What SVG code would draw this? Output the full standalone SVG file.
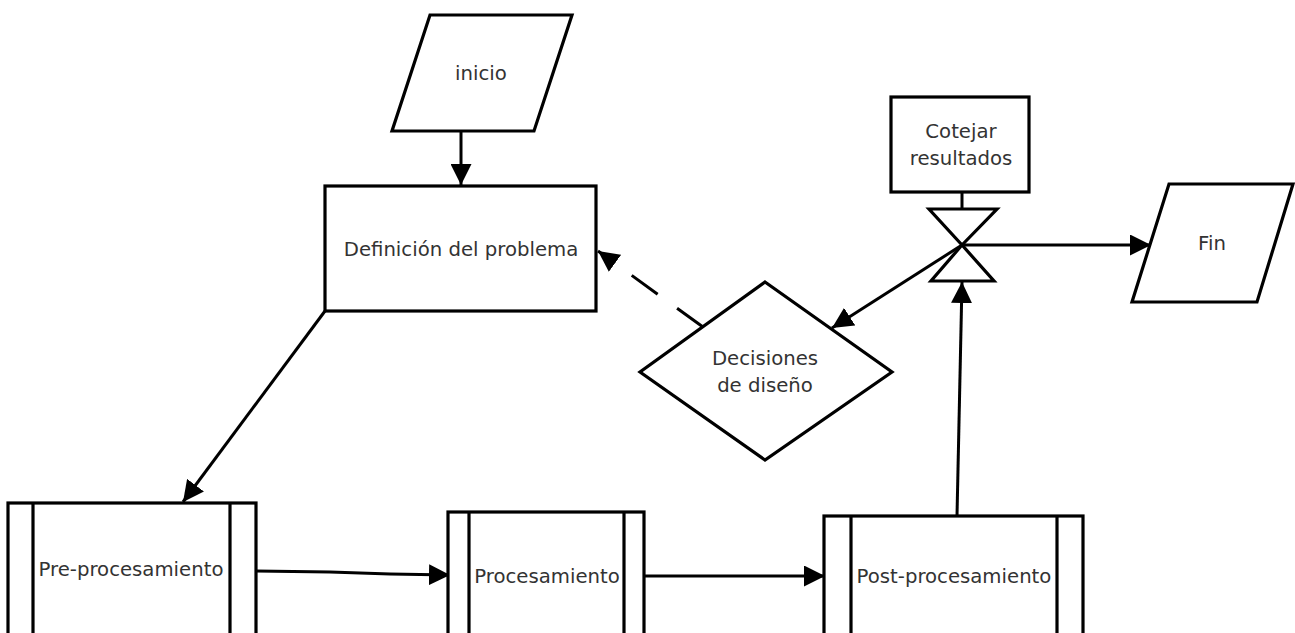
<svg xmlns="http://www.w3.org/2000/svg" width="1295" height="633" viewBox="0 0 1295 633">
  <defs>
    <marker id="arrow" markerUnits="userSpaceOnUse" markerWidth="21" markerHeight="21" refX="21" refY="10.5" orient="auto" viewBox="0 0 21 21">
      <path d="M0,0 L21,10.5 L0,21 z" fill="#000"/>
    </marker>
    <style>
      .shape { fill: #fff; stroke: #000; stroke-width: 3.2; stroke-linejoin: miter; }
      .inner { fill: none; stroke: #000; stroke-width: 3.2; }
      .edge { fill: none; stroke: #000; stroke-width: 3; }
      .label { font-family: "DejaVu Sans", sans-serif; font-size: 19.7px; fill: #333; text-anchor: middle; }
    </style>
  </defs>
  <rect width="1295" height="633" fill="#fff"/>

  <!-- connectors -->
  <g id="connectors">
    <line class="edge" x1="461" y1="131" x2="461" y2="185" marker-end="url(#arrow)"/>
    <line class="edge" x1="325" y1="311" x2="183" y2="502" marker-end="url(#arrow)"/>
    <polyline class="edge" points="256,571 330,572 390,574 450,575" marker-end="url(#arrow)"/>
    <line class="edge" x1="644" y1="576" x2="825" y2="576" marker-end="url(#arrow)"/>
    <line class="edge" x1="957" y1="516" x2="962" y2="282" marker-end="url(#arrow)"/>
    <line class="edge" x1="962" y1="192" x2="962" y2="209"/>
    <line class="edge" x1="962" y1="245" x2="1151" y2="245" marker-end="url(#arrow)"/>
    <line class="edge" x1="962" y1="245" x2="832" y2="328" marker-end="url(#arrow)"/>
    <path class="edge" d="M703,327 L598,251" stroke-dasharray="32 24" marker-end="url(#arrow)"/>
  </g>

  <!-- start -->
  <g id="inicio">
    <polygon class="shape" points="430,15 572,15 534,131 392,131"/>
    <text class="label" x="481" y="80">inicio</text>
  </g>

  <g id="definicion">
    <rect class="shape" x="325" y="186" width="271" height="125"/>
    <text class="label" x="461" y="256">Definición del problema</text>
  </g>

  <g id="cotejar">
    <rect class="shape" x="891" y="97" width="138" height="95"/>
    <text class="label" x="961" y="138">Cotejar</text>
    <text class="label" x="961" y="165">resultados</text>
  </g>

  <!-- collate (hourglass) symbol -->
  <g id="collate">
    <polygon class="shape" points="929,209 997,209 962,245" fill="none"/>
    <polygon class="shape" points="962,245 931,281 994,281" fill="none"/>
  </g>

  <g id="fin">
    <polygon class="shape" points="1169,184 1293,184 1257,302 1132,302"/>
    <text class="label" x="1212" y="250">Fin</text>
  </g>

  <g id="decisiones">
    <polygon class="shape" points="765,282 892,372 765,460 640,372"/>
    <text class="label" x="765" y="365">Decisiones</text>
    <text class="label" x="765" y="392">de diseño</text>
  </g>

  <!-- predefined-process boxes -->
  <g id="preprocesamiento">
    <rect class="shape" x="8" y="503" width="248" height="140"/>
    <line class="inner" x1="33" y1="503" x2="33" y2="640"/>
    <line class="inner" x1="230" y1="503" x2="230" y2="640"/>
    <text class="label" x="131" y="576">Pre-procesamiento</text>
  </g>

  <g id="procesamiento">
    <rect class="shape" x="448" y="512" width="196" height="130"/>
    <line class="inner" x1="469" y1="512" x2="469" y2="640"/>
    <line class="inner" x1="624" y1="512" x2="624" y2="640"/>
    <text class="label" x="547" y="583">Procesamiento</text>
  </g>

  <g id="postprocesamiento">
    <rect class="shape" x="824" y="516" width="259" height="125"/>
    <line class="inner" x1="851" y1="516" x2="851" y2="640"/>
    <line class="inner" x1="1057" y1="516" x2="1057" y2="640"/>
    <text class="label" x="954" y="583">Post-procesamiento</text>
  </g>
</svg>
